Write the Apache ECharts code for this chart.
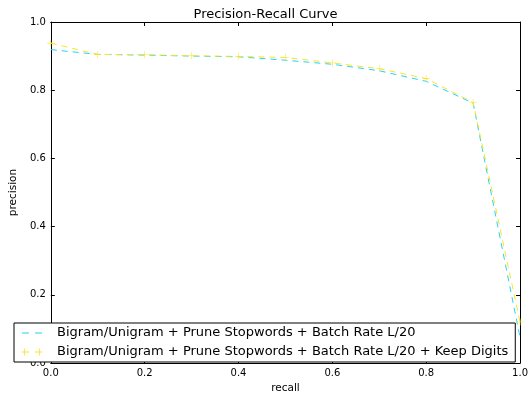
<!DOCTYPE html>
<html>
<head>
<meta charset="utf-8">
<script src="https://cdn.jsdelivr.net/npm/echarts@6/dist/echarts.min.js"></script>
<style>
html,body{margin:0;padding:0;background:#fff;}
#chart{width:531px;height:399px;}
</style>
</head>
<body>
<div id="chart"></div>
<script>
var recall = [0.0, 0.1, 0.2, 0.3, 0.4, 0.5, 0.6, 0.7, 0.8, 0.9, 1.0];
var precisionBase = [0.919, 0.905, 0.903, 0.900, 0.898, 0.888, 0.876, 0.857, 0.826, 0.762, 0.075];
var precisionDigits = [0.938, 0.905, 0.904, 0.901, 0.899, 0.896, 0.880, 0.863, 0.834, 0.764, 0.120];
var seriesNames = [
  'Bigram/Unigram + Prune Stopwords + Batch Rate L/20',
  'Bigram/Unigram + Prune Stopwords + Batch Rate L/20 + Keep Digits'
];

function pairs(xs, ys) { return xs.map(function (x, i) { return [x, ys[i]]; }); }

var FONT = 'DejaVu Sans';
var CYAN = '#22d4f4';
var YELLOW = '#f5e52a';
var chart = echarts.init(document.getElementById('chart'), null, {renderer: 'canvas'});

function baseAxis(pos, showLabels, name) {
  return {
    type: 'value', position: pos, min: 0, max: 1, interval: 0.2,
    name: name || '', nameLocation: 'middle',
    nameTextStyle: {fontFamily: FONT, fontSize: 10.5, color: '#000'},
    axisLine: {show: true, onZero: false, lineStyle: {color: '#000', width: 1}},
    axisTick: {show: true, inside: true, length: 4, lineStyle: {color: '#000'}},
    axisLabel: {show: showLabels, fontFamily: FONT, fontSize: 10, color: '#000', margin: 5,
      formatter: function (v) { return v.toFixed(1); }},
    splitLine: {show: false}
  };
}

var xb = baseAxis('bottom', true, 'recall'); xb.nameGap = 20;
var xt = baseAxis('top', false);
var yl = baseAxis('left', true, 'precision'); yl.nameGap = 27;
var yr = baseAxis('right', false);

var plusPath = 'path://M4.6,0H5.4V4.6H10V5.4H5.4V10H4.6V5.4H0V4.6H4.6Z';
// legend icons drawn in a 20x14 box
var iconDash = 'path://M0,0L0,0M20,14L20,14M0,6.5H7V7.5H0ZM13,6.5H20V7.5H13Z';
var iconDashPlus = 'path://M0,0L0,0M20,14L20,14' +
  'M0,6.6H7V7.4H0Z' +
  'M13,6.6H20V7.4H13Z' +
  'M2.1,3.5H2.9V10.5H2.1Z' +
  'M17.1,3.5H17.9V10.5H17.1Z';

chart.setOption({
  animation: false,
  backgroundColor: '#fff',
  title: {
    text: 'Precision-Recall Curve', left: 'center', top: 3,
    textStyle: {fontFamily: FONT, fontSize: 13, fontWeight: 'normal', color: '#000'}
  },
  grid: {left: 49, top: 22, width: 472, height: 347.5, containLabel: false},
  xAxis: [xb, xt],
  yAxis: [yl, yr],
  legend: {
    orient: 'vertical', left: 14, top: 323,
    backgroundColor: '#fff', borderColor: '#000', borderWidth: 1, borderRadius: 0,
    padding: [3, 7, 3, 8], itemGap: 5, itemWidth: 20, itemHeight: 14,
    textStyle: {fontFamily: FONT, fontSize: 13, lineHeight: 14, color: '#000', padding: [0, 0, 0, 10]},
    data: [
      {name: seriesNames[0], icon: iconDash, itemStyle: {color: CYAN, borderWidth: 0}},
      {name: seriesNames[1], icon: iconDashPlus, itemStyle: {color: YELLOW, borderWidth: 0}}
    ]
  },
  series: [
    {
      name: seriesNames[0], type: 'line', data: pairs(recall, precisionBase),
      symbol: 'none', color: CYAN,
      lineStyle: {color: CYAN, width: 1, type: [6, 5]}
    },
    {
      name: seriesNames[1], type: 'line', data: pairs(recall, precisionDigits),
      symbol: plusPath, symbolSize: 7, showSymbol: true, color: YELLOW,
      itemStyle: {color: YELLOW},
      lineStyle: {color: YELLOW, width: 1, type: [6, 5]}
    }
  ]
});
</script>
</body>
</html>
